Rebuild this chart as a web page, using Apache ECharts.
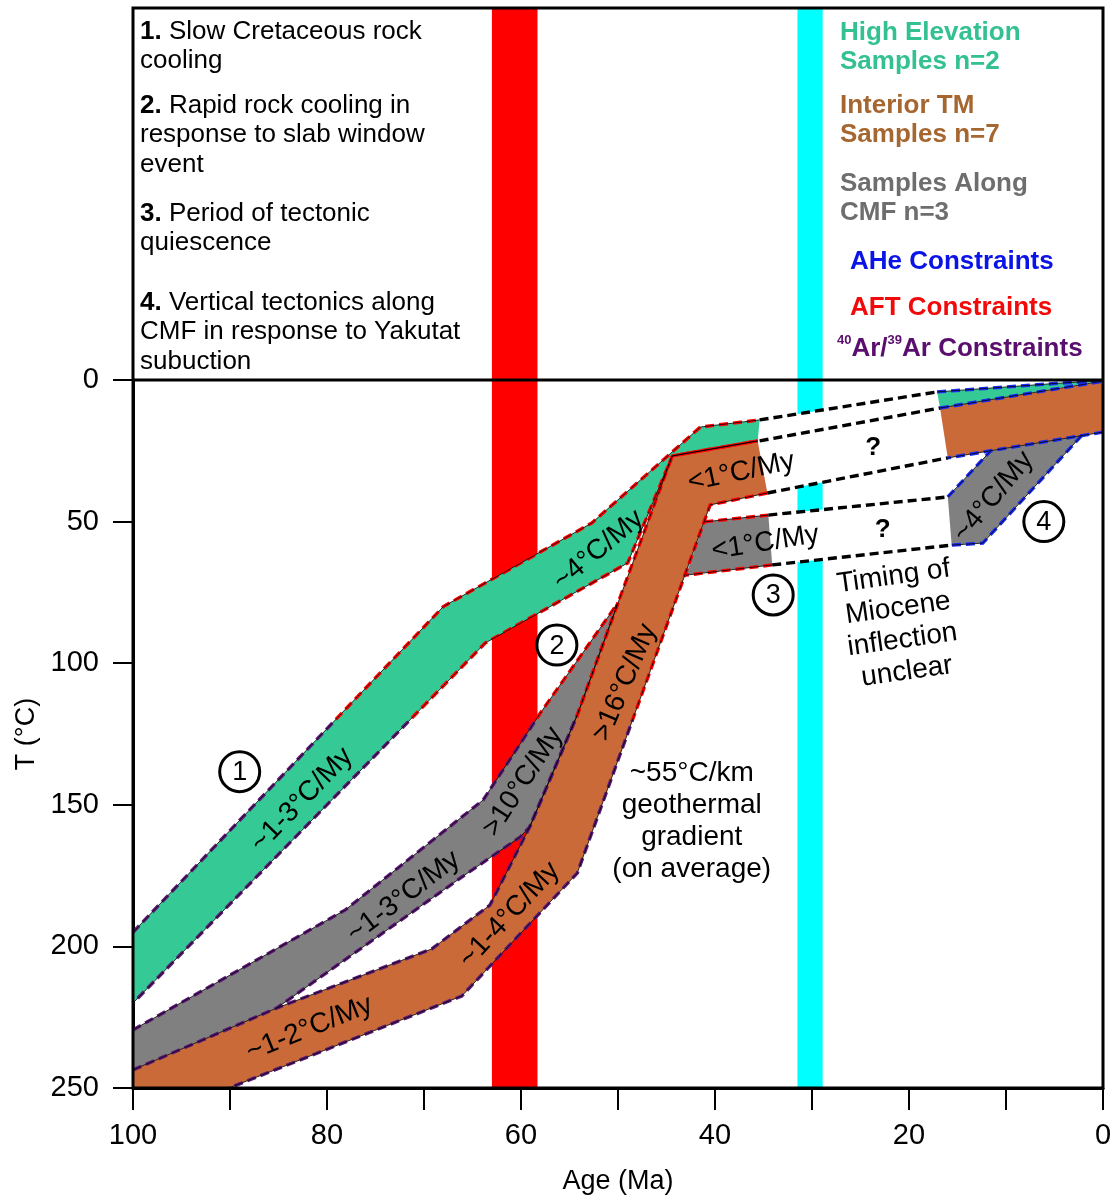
<!DOCTYPE html>
<html><head><meta charset="utf-8">
<script src="https://cdn.jsdelivr.net/npm/echarts/dist/echarts.min.js"></script>
<style>html,body{margin:0;padding:0;background:#fff}#chart{width:1115px;height:1200px}</style>
</head><body><div id="chart"></div>
<script>
// ---------------- DATA (age in Ma, temperature in °C) ----------------
const ageMin = 0, ageMax = 100, ageStep = 10;
const tempMin = 0, tempMax = 250, tempStep = 50;
const slabWindowStrip = [63.0, 58.3];
const yakutatStrip = [31.5, 28.9];

// High elevation samples (n=2): upper edge left->right, then lower edge right->left
const highElevation = [[100,195],[68,80],[52.7,50.5],[41.5,16.6],[35.4,14.1],
                       [35.6,21.5],[44.4,26.8],[49,64.6],[63.7,92.9],[100,220]];
// Interior TM samples (n=7)
const interiorTM = [[100,243.6],[85.2,221.8],[69.2,200.9],[63.2,185.4],[59.1,157.8],[54.2,118.3],[50,78.7],[44.4,26.8],[35.6,21.5],
                    [34.6,39.9],[40.5,44.1],[54.2,174.1],[66.1,217.5],[90.1,250],[100,250]];
// Samples along CMF (n=3)
const alongCMF = [[100,229.5],[78.1,187.1],[63.9,148.3],[58,117.6],[50,78.7],
                  [54.2,118.3],[59.1,157.8],[60.1,161.4],[66.1,175.5],[85.2,221.8],[100,243.6]];
const cmfQuiescence = [[41.1,50.1],[34.5,47.7],[34.1,65.3],[43.0,68.9]];
const highElevRecent = [[17.1,4.2],[4.4,1.1],[0,0.2],[16.8,9.9]];
const interiorRecent = [[16.8,9.9],[0,0.4],[0,18.4],[16.0,27.5]];
const cmfYakutat = [[15.6,58.3],[16.0,41.3],[11.6,25.1],[2.2,19.6],[12.4,57.6]];
// Uncertain (Miocene) connections
const gapUpperTop = [[35.4,14.1],[17.1,4.2]];
const gapUpperMid = [[35.4,21.5],[16.8,9.9]];
const gapUpperBottom = [[34.6,39.9],[16.0,27.5]];
const gapLowerTop = [[34.5,47.7],[16.0,41.3]];
const gapLowerBottom = [[34.1,65.3],[15.6,58.3]];
const arAftBoundary = 120; // °C, Ar/Ar (below) vs AFT (above) constraints

// ---------------- STYLE ----------------
const FONT = '"Liberation Sans", Arial, Helvetica, sans-serif';
const COL = {green:'#35C995', orange:'#C96A38', gray:'#808080', red:'#FF0000', cyan:'#00FFFF',
             purple:'#5E1A78', blue:'#1A2BF0'};

const chart = echarts.init(document.getElementById('chart'), null, {renderer:'canvas'});

function stripSeries(g) {
  return {type:'custom', xAxisIndex:g, yAxisIndex:g, z:1, silent:true, clip:false,
    data:[[slabWindowStrip[0], slabWindowStrip[1]], [yakutatStrip[0], yakutatStrip[1]]],
    renderItem(params, api) {
      const cs = params.coordSys;
      const x0 = api.coord([api.value(0), 0])[0], x1 = api.coord([api.value(1), 0])[0];
      return {type:'rect', shape:{x:Math.min(x0,x1), y:cs.y, width:Math.abs(x1-x0), height:cs.height},
              style:{fill: params.dataIndex === 0 ? COL.red : COL.cyan}};
    }};
}
function polySeries(pts, fill, z) {
  return {type:'custom', xAxisIndex:1, yAxisIndex:1, z, silent:true, clip:true,
    data: pts.map(p => [p[0], p[1]]),
    renderItem(params, api) {
      if (params.dataIndex !== 0) return null;
      return {type:'polygon', shape:{points: pts.map(p => api.coord(p))}, style:{fill, stroke:null}};
    }};
}
function thermoStroke(api) {
  const top = api.coord([50, tempMin])[1], bot = api.coord([50, tempMax])[1];
  const f = (api.coord([50, arAftBoundary])[1] - top) / (bot - top);
  return new echarts.graphic.LinearGradient(0, top, 0, bot, [
    {offset:0, color:COL.red}, {offset:f, color:COL.red},
    {offset:f, color:COL.purple}, {offset:1, color:COL.purple}], true);
}
function edgeSeries(edges, strokeFn, withCore, z) {
  return {type:'custom', xAxisIndex:1, yAxisIndex:1, z, silent:true, clip:true,
    data: edges.map(e => [e[0][0], e[0][1]]),
    renderItem(params, api) {
      const pts = edges[params.dataIndex].map(p => api.coord(p));
      const children = [];
      children.push({type:'polyline', z2:1, shape:{points:pts},
        style:{stroke: strokeFn(api), lineWidth:3.4, lineDash:[9,5], fill:'none'}});
      if (withCore) children.push({type:'polyline', z2:2, shape:{points:pts}, style:{stroke:'#000', lineWidth:0.8, fill:'none'}});
      return {type:'group', children};
    }};
}

const thermoEdges = [highElevation.slice(0,5), highElevation.slice(5),
  interiorTM.slice(0,9), interiorTM.slice(9,14), alongCMF.slice(0,5), alongCMF.slice(4,10),
  cmfQuiescence.slice(0,2), cmfQuiescence.slice(2,4)];
const aheEdges = [highElevRecent.slice(0,3), interiorRecent.slice(0,2), interiorRecent.slice(2,4),
  cmfYakutat.slice(1,3), cmfYakutat.slice(3,5).concat([cmfYakutat[0]])];
const gapEdges = [gapUpperTop, gapUpperMid, gapUpperBottom, gapLowerTop, gapLowerBottom];
const gapUpperFill = [gapUpperTop[0], gapUpperTop[1], gapUpperBottom[1], gapUpperBottom[0]];
const gapLowerFill = [gapLowerTop[0], gapLowerTop[1], gapLowerBottom[1], gapLowerBottom[0]];

// annotations placed in data coordinates: [text, age, T, rotationDeg, fontSize, bold]
const notes = [
  ['~1-3°C/My', 82.6, 148.3, 46, 28, false],
  ['~1-3°C/My', 72.1, 182.5, 37, 28, false],
  ['>10°C/My', 59.8, 141.9, 57, 28, false],
  ['~1-4°C/My', 61.2, 188.9, 47, 28, false],
  ['~1-2°C/My', 81.8, 229.0, 22, 28, false],
  ['>16°C/My', 49.3, 106.8, 67, 28, false],
  ['~4°C/My', 52.0, 60.0, 40, 28, false],
  ['<1°C/My', 37.3, 32.5, 12, 28, false],
  ['<1°C/My', 34.8, 57.5, 9, 28, false],
  ['~4°C/My', 11.3, 41.2, 50, 28, false],
  ['?', 23.7, 24, 0, 26, true],
  ['?', 22.7, 53, 0, 26, true],
  ['~55°C/km\ngeothermal\ngradient\n(on average)', 42.4, 155.9, 0, 28, false],
  ['Timing of\nMiocene\ninflection\nunclear', 20.9, 86.2, 8, 28, false]
];
const stageMarks = [['1', 89.0, 138.3], ['2', 56.3, 93.6], ['3', 34.0, 75.9], ['4', 6.1, 50.0]];

const noteSeries = {type:'custom', xAxisIndex:1, yAxisIndex:1, z:20, silent:true, clip:false,
  data: notes.map(n => [n[1], n[2]]),
  renderItem(params, api) {
    const n = notes[params.dataIndex];
    const p = api.coord([n[1], n[2]]);
    return {type:'text', x:p[0], y:p[1], rotation:n[3]*Math.PI/180,
      style:{text:n[0], fontSize:n[4], fontWeight:n[5]?'bold':'normal', fontFamily:FONT, fill:'#000',
             align:'center', verticalAlign:'middle', lineHeight:32}};
  }};
const stageSeries = {type:'custom', xAxisIndex:1, yAxisIndex:1, z:21, silent:true, clip:false,
  data: stageMarks.map(s => [s[1], s[2]]),
  renderItem(params, api) {
    const s = stageMarks[params.dataIndex];
    const p = api.coord([s[1], s[2]]);
    return {type:'group', children:[
      {type:'circle', shape:{cx:p[0], cy:p[1], r:20}, style:{fill:'#fff', stroke:'#000', lineWidth:3}},
      {type:'text', x:p[0], y:p[1]+1, style:{text:s[0], fontSize:27, fontFamily:FONT, fill:'#000', align:'center', verticalAlign:'middle'}}
    ]};
  }};

const txt = (left, top, text, color, bold, extraRich) => ({
  type:'text', left, top, z:50, silent:true,
  style:{text, fontSize:26, fontFamily:FONT, fontWeight: bold ? 'bold' : 'normal', fill:color, lineHeight:29.5,
    rich: Object.assign({b:{fontSize:26, fontFamily:FONT, fontWeight:'bold', fill:color, lineHeight:29.5}}, extraRich || {})}
});

const option = {
  animation:false,
  backgroundColor:'#fff',
  grid:[
    {left:133, right:12, top:8, height:372, show:false, outerBoundsMode:'none'},
    {left:133, right:12, top:380, bottom:112, show:false, outerBoundsMode:'none'}
  ],
  xAxis:[
    {gridIndex:0, type:'value', min:ageMin, max:ageMax, inverse:true, show:false},
    {gridIndex:1, type:'value', min:ageMin, max:ageMax, interval:ageStep, inverse:true,
     name:'Age (Ma)', nameLocation:'middle', nameGap:80,
     nameTextStyle:{fontSize:27, color:'#000', fontFamily:FONT},
     axisLine:{show:true, onZero:false, lineStyle:{color:'#000', width:3}},
     axisTick:{show:true, length:22, lineStyle:{color:'#000', width:2}},
     axisLabel:{fontSize:29, color:'#000', margin:33, fontFamily:FONT,
       formatter: v => (v % 20 === 0 ? String(v) : '')},
     splitLine:{show:false}}
  ],
  yAxis:[
    {gridIndex:0, type:'value', min:0, max:1, show:false},
    {gridIndex:1, type:'value', min:tempMin, max:tempMax, interval:tempStep, inverse:true,
     name:'T (°C)', nameLocation:'middle', nameGap:90, nameRotate:90,
     nameTextStyle:{fontSize:27, color:'#000', fontFamily:FONT},
     axisLine:{show:true, onZero:false, lineStyle:{color:'#000', width:3}},
     axisTick:{show:true, length:20, lineStyle:{color:'#000', width:2}},
     axisLabel:{fontSize:29, color:'#000', margin:34, fontFamily:FONT},
     splitLine:{show:false}}
  ],
  series:[
    stripSeries(0), stripSeries(1),
    polySeries(gapUpperFill, '#fff', 2), polySeries(gapLowerFill, '#fff', 2),
    polySeries(alongCMF, COL.gray, 3), polySeries(cmfQuiescence, COL.gray, 3),
    polySeries(interiorTM, COL.orange, 4), polySeries(highElevation, COL.green, 5),
    polySeries(cmfYakutat, COL.gray, 3), polySeries(interiorRecent, COL.orange, 4),
    polySeries(highElevRecent, COL.green, 5),
    edgeSeries(thermoEdges, thermoStroke, true, 8),
    edgeSeries(aheEdges, () => COL.blue, true, 8),
    edgeSeries(gapEdges, () => '#000', false, 8),
    noteSeries, stageSeries
  ],
  graphic:[
    {type:'rect', z:40, silent:true, shape:{x:133, y:8, width:970, height:1080}, style:{fill:'none', stroke:'#000', lineWidth:3}},
    {type:'line', z:40, silent:true, shape:{x1:133, y1:380, x2:1103, y2:380}, style:{stroke:'#000', lineWidth:3}},
    txt(140, 17, '{b|1.} Slow Cretaceous rock\ncooling', '#000', false),
    txt(140, 91, '{b|2.} Rapid rock cooling in\nresponse to slab window\nevent', '#000', false),
    txt(140, 199, '{b|3.} Period of tectonic\nquiescence', '#000', false),
    txt(140, 288, '{b|4.} Vertical tectonics along\nCMF in response to Yakutat\nsubuction', '#000', false),
    txt(840, 18, 'High Elevation\nSamples n=2', '#33C191', true),
    txt(840, 91, 'Interior TM\nSamples n=7', '#A5662F', true),
    txt(840, 169, 'Samples Along\nCMF n=3', '#6E6E6E', true),
    txt(850, 247, 'AHe Constraints', '#0A14E6', true),
    txt(850, 293, 'AFT Constraints', '#F20A0A', true),
    txt(837, 334, '{s|40}Ar/{s|39}Ar Constraints', '#5A0E6E', true,
        {s:{fontSize:13, fontFamily:FONT, fontWeight:'bold', fill:'#5A0E6E', verticalAlign:'top', lineHeight:29.5}})
  ]
};
chart.setOption(option);
</script></body></html>
